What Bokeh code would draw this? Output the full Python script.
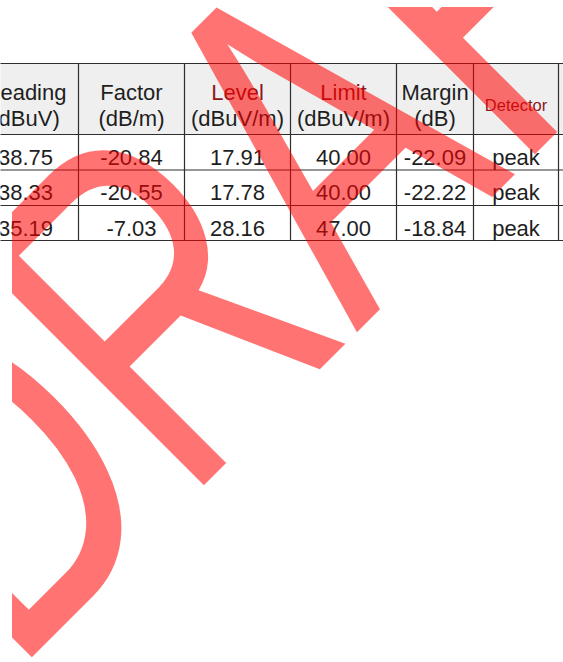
import math
from bokeh.plotting import figure
from bokeh.layouts import column
from bokeh.models import Range1d, ColumnDataSource, Div
from bokeh.core.properties import value
from bokeh.embed import file_html
from bokeh.resources import INLINE

# ---------------- data ----------------
columns = ["Reading", "Factor", "Level", "Limit", "Margin", "Detector"]
units = ["(dBuV)", "(dB/m)", "(dBuV/m)", "(dBuV/m)", "(dB)", ""]
reading = [38.75, 38.33, 35.19]
factor = [-20.84, -20.55, -7.03]
level = [17.91, 17.78, 28.16]
limit = [40.00, 40.00, 47.00]
margin = [-22.09, -22.22, -18.84]
detector = ["peak", "peak", "peak"]
watermark = "DRAFT"

# ---------------- layout (page pixels) ----------------
W, H = 563, 662
PH = H - 1  # leave 1px for the watermark holder
col_edges = [-28, 78, 184, 290, 396, 473, 558, 660]
head_top, head_bot = 63, 134
row_edges = [134, 169.5, 205, 240]
head_base1, head_base2 = 92.3, 118.3
single_head_base = 104.3
row_base_off = 22.7
red_heads = {"Level", "Limit", "Detector"}

TXT = "#1e1e1e"
RED_TXT = "#8e1818"
LINE = "#2e2e2e"
FONT = value("Liberation Sans")
FS = "22px"

p = figure(width=W, height=PH, x_range=Range1d(0, W), y_range=Range1d(PH, 0),
           output_backend="svg", toolbar_location=None, min_border=0,
           x_axis_type=None, y_axis_type=None)
p.grid.visible = False
p.outline_line_color = None
p.background_fill_color = "white"
p.border_fill_color = "white"

# header background
p.quad(left=[col_edges[0]], right=[col_edges[-1]], top=[head_top], bottom=[head_bot],
       fill_color="#efefef", line_color=None)

# grid lines
hl = [head_top] + row_edges
p.multi_line(xs=[[col_edges[0], col_edges[-1]] for _ in hl], ys=[[y, y] for y in hl],
             line_color=LINE, line_width=1.2)
vl = col_edges[1:-1]
p.multi_line(xs=[[x, x] for x in vl], ys=[[head_top, row_edges[-1]] for _ in vl],
             line_color=LINE, line_width=1.2)

centers = [(col_edges[i] + col_edges[i + 1]) / 2 for i in range(len(columns))]

# header texts
hx, hy, ht, hc = [], [], [], []
ux, uy, ut = [], [], []
dx, dy, dt, dc = [], [], [], []
for c, name, unit in zip(centers, columns, units):
    col = RED_TXT if name in red_heads else TXT
    if unit:
        hx.append(c); hy.append(head_base1); ht.append(name); hc.append(col)
        ux.append(c); uy.append(head_base2); ut.append(unit)
    else:
        dx.append(c); dy.append(single_head_base); dt.append(name); dc.append(col)

p.text(x="x", y="y", text="t", text_color="c",
       source=ColumnDataSource(dict(x=hx, y=hy, t=ht, c=hc)),
       text_font=FONT, text_font_size=value(FS), text_align="center",
       text_baseline="alphabetic")
p.text(x=ux, y=uy, text=ut, text_color=TXT, text_font=FONT,
       text_font_size=value(FS), text_align="center", text_baseline="alphabetic")
p.text(x="x", y="y", text="t", text_color="c",
       source=ColumnDataSource(dict(x=dx, y=dy, t=dt, c=dc)),
       text_font=FONT, text_font_size=value("16.5px"), text_align="center",
       text_baseline="alphabetic")

# body
series = [reading, factor, level, limit, margin]
bx, by, bt = [], [], []
for ci, vals in enumerate(series):
    for ri, v in enumerate(vals):
        bx.append(centers[ci]); by.append(row_edges[ri] + row_base_off); bt.append(f"{v:.2f}")
for ri, d in enumerate(detector):
    bx.append(centers[5]); by.append(row_edges[ri] + row_base_off); bt.append(d)
p.text(x=bx, y=by, text=bt, text_color=TXT, text_font=FONT,
       text_font_size=value(FS), text_align="center", text_baseline="alphabetic")

# ---------------- watermark (rotated, horizontally condensed text) ----------------
wm_em = 478.0          # font size in px
wm_scale_x = 0.705     # horizontal condensing
wm_origin = (12.0, 676.7)  # page position of the text's baseline start
clip_left, clip_top = 12, 7
base_off = 0.8465 * wm_em  # baseline offset inside a line box of line-height 1em
left = wm_origin[0] - clip_left
top = wm_origin[1] - clip_top - base_off
wm_html = (
    f'<div style="position:fixed;left:{clip_left}px;top:{clip_top}px;'
    f'width:{W - clip_left}px;height:{H - clip_top}px;overflow:hidden;'
    f'pointer-events:none;z-index:1000;">'
    f'<div style="position:absolute;left:{left:.1f}px;top:{top:.1f}px;'
    f"font-family:'Liberation Sans';font-size:{wm_em}px;line-height:{wm_em}px;"
    f'white-space:nowrap;color:rgba(255,0,0,0.55);'
    f'transform-origin:0px {base_off:.1f}px;'
    f'transform:rotate(-45deg) scaleX({wm_scale_x});">{watermark}</div></div>'
)
wm = Div(text=wm_html, width=1, height=1, margin=0)

layout = column(p, wm, spacing=0)
open("out.html", "w").write(file_html(layout, INLINE))
